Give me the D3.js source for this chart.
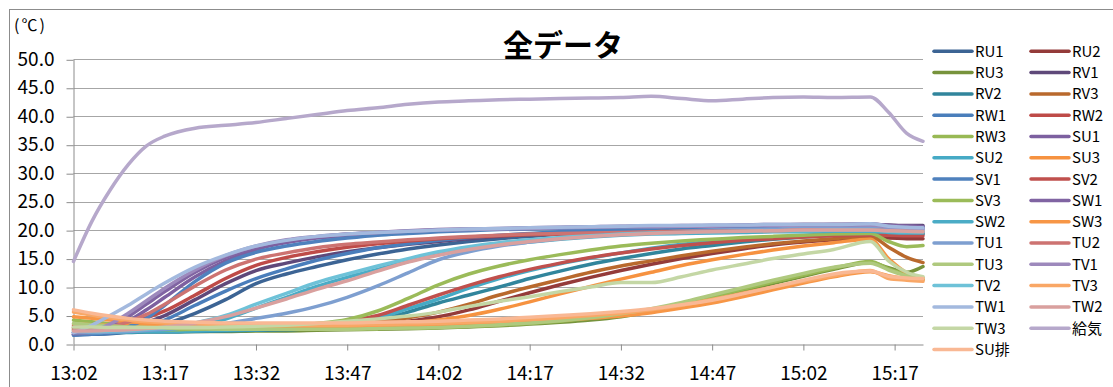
<!DOCTYPE html>
<html>
<head>
<meta charset="utf-8">
<script src="https://cdn.jsdelivr.net/npm/d3@7"></script>
<style>
  html, body { margin: 0; padding: 0; background: #fff; }
  svg { display: block; }
  text { font-family: "Noto Sans CJK JP", "Noto Sans", sans-serif; fill: #000; }
</style>
</head>
<body>
<svg id="chart" width="1113" height="387"></svg>
<script>
// Sample times (HH:MM or HH:MM:SS)
const times = [
  "13:02","13:05","13:08","13:11","13:14","13:17","13:22","13:27","13:32","13:37",
  "13:42","13:47","13:52","13:57","14:02","14:07","14:12","14:17","14:22","14:27",
  "14:32","14:37","14:42","14:47","14:52","14:57","15:02","15:07","15:13","15:16",
  "15:19","15:21:40"
];
const tickLabels = ["13:02","13:17","13:32","13:47","14:02","14:17","14:32","14:47","15:02","15:17"];
const yTicks = [0, 5, 10, 15, 20, 25, 30, 35, 40, 45, 50];

// Temperatures (°C) per measuring point
const RU1 = [1.6,1.7,1.8,2.1,2.6,3.5,5.4,7.8,10.6,12.3, 13.6,14.8,15.8,16.7,17.4,18.0,18.5,18.9,19.3,19.6, 19.8,20.0,20.1,20.2,20.3,20.4,20.5,20.5,20.6,20.5, 20.4,20.4];
const RU2 = [2.8,2.8,2.7,2.7,2.6,2.6,2.6,2.7,2.7,2.8, 2.9,3.1,3.4,4.0,4.8,6.0,7.5,9.0,10.4,11.7, 12.9,14.0,15.0,15.9,16.7,17.4,17.9,18.3,18.6,18.6, 18.5,18.5];
const RU3 = [2.4,2.3,2.3,2.2,2.2,2.2,2.2,2.2,2.3,2.3, 2.4,2.5,2.6,2.7,2.8,3.0,3.2,3.5,3.8,4.2, 4.8,5.7,6.8,8.0,9.3,10.6,11.9,13.1,14.3,13.4, 12.6,13.6];
const RV1 = [1.7,1.8,2.2,2.9,3.8,5.0,7.8,10.6,12.9,14.2, 15.3,16.2,16.9,17.5,18.0,18.5,18.9,19.3,19.6,19.9, 20.2,20.4,20.6,20.7,20.8,20.9,21.0,21.0,21.0,20.9, 20.8,20.8];
const RV2 = [2.0,2.0,2.0,2.0,2.1,2.1,2.2,2.3,2.4,2.5, 2.7,3.2,4.1,5.6,7.2,8.6,10.0,11.5,12.8,14.0, 15.0,15.9,16.7,17.3,17.9,18.4,18.8,19.1,19.3,19.3, 19.3,19.3];
const RV3 = [2.8,2.7,2.6,2.6,2.6,2.6,2.6,2.7,2.8,2.9, 3.1,3.4,3.9,4.6,5.6,7.0,8.6,10.0,11.3,12.6, 13.7,14.6,15.5,16.3,17.0,17.6,18.1,18.5,18.9,17.0, 15.2,14.3];
const RW1 = [1.6,1.7,1.9,2.3,3.0,4.2,6.8,9.3,11.5,13.2, 14.7,15.9,16.9,17.6,18.2,18.7,19.1,19.4,19.7,19.9, 20.0,20.2,20.3,20.4,20.5,20.6,20.6,20.7,20.7,20.5, 20.4,20.3];
const RW2 = [3.3,3.2,3.3,3.8,4.6,5.8,8.6,11.5,13.8,15.2, 16.2,17.0,17.6,18.1,18.5,18.8,19.0,19.2,19.3,19.4, 19.5,19.6,19.6,19.7,19.7,19.8,19.8,19.8,19.8,19.6, 19.5,19.4];
const RW3 = [4.2,3.9,3.6,3.4,3.2,3.0,2.8,2.7,2.6,2.6, 2.6,2.6,2.7,2.8,2.9,3.1,3.3,3.6,4.0,4.5, 5.1,6.0,7.1,8.3,9.6,10.9,12.1,13.3,14.5,13.2, 12.2,11.3];
const SU1 = [1.7,1.9,2.6,4.0,6.0,8.2,11.8,14.6,16.6,17.8, 18.6,19.0,19.4,19.7,19.9,20.1,20.2,20.3,20.4,20.5, 20.6,20.7,20.7,20.8,20.8,20.9,20.9,21.0,21.0,20.8, 20.7,20.6];
const SU2 = [2.1,2.1,2.1,2.1,2.2,2.2,2.3,2.4,2.5,2.7, 3.0,3.6,4.6,6.2,7.9,9.8,11.5,12.9,14.1,15.1, 16.0,16.8,17.5,18.0,18.5,18.8,19.0,19.2,19.3,19.4, 19.4,19.4];
const SU3 = [3.5,3.4,3.3,3.2,3.1,3.0,2.9,2.9,2.9,3.0, 3.1,3.2,3.4,3.7,4.2,5.0,6.1,7.4,8.8,10.1, 11.4,12.6,13.8,14.8,15.7,16.5,17.2,17.8,18.4,15.0, 12.5,11.6];
const SV1 = [1.6,1.8,2.2,3.0,4.5,6.8,11.0,14.2,16.1,17.2, 18.0,18.6,19.1,19.4,19.7,19.9,20.1,20.2,20.3,20.4, 20.5,20.6,20.6,20.7,20.7,20.8,20.8,20.9,20.9,20.6, 20.5,20.5];
const SV2 = [3.0,2.9,2.8,2.7,2.7,2.7,2.7,2.8,2.9,3.1, 3.4,4.0,5.0,6.8,8.6,10.3,11.8,13.1,14.2,15.2, 16.0,16.7,17.3,17.8,18.2,18.5,18.8,19.0,19.1,19.1, 19.0,19.0];
const SV3 = [2.6,2.6,2.5,2.5,2.5,2.5,2.6,2.7,2.9,3.2, 3.6,4.3,5.8,8.0,10.4,12.3,13.7,14.8,15.7,16.5, 17.2,17.7,18.1,18.4,18.7,18.9,19.1,19.3,19.4,18.0, 17.1,17.3];
const SW1 = [1.8,2.0,3.0,4.8,7.0,9.2,12.6,15.2,17.0,18.2, 18.8,19.3,19.6,19.9,20.1,20.2,20.3,20.4,20.5,20.6, 20.7,20.7,20.8,20.8,20.9,21.0,21.0,21.0,21.1,20.8, 20.7,20.6];
const SW2 = [2.0,2.0,2.1,2.2,2.3,2.5,3.2,4.4,6.3,8.2, 10.1,11.7,13.1,14.5,15.7,16.6,17.4,17.9,18.4,18.8, 19.1,19.3,19.4,19.5,19.6,19.7,19.7,19.8,19.8,19.6, 19.5,19.5];
const SW3 = [4.8,4.5,4.2,3.9,3.6,3.4,3.1,3.0,2.9,2.9, 2.9,2.9,3.0,3.1,3.3,3.5,3.7,3.9,4.2,4.5, 4.9,5.5,6.3,7.2,8.3,9.5,10.7,11.8,12.7,12.0, 11.5,11.3];
const TU1 = [2.0,2.0,2.1,2.2,2.4,2.6,3.0,3.6,4.5,5.4, 6.6,8.2,10.2,12.5,14.8,16.2,17.2,17.9,18.5,18.9, 19.3,19.6,19.8,20.0,20.1,20.2,20.3,20.3,20.4,20.2, 20.1,20.1];
const TU2 = [2.5,2.6,3.0,3.9,5.2,7.0,10.2,13.0,14.9,16.0, 16.9,17.5,17.9,18.3,18.6,18.9,19.1,19.3,19.4,19.5, 19.6,19.7,19.8,19.8,19.9,19.9,20.0,20.0,20.0,19.9, 19.8,19.8];
const TU3 = [3.6,3.4,3.2,3.0,2.9,2.8,2.7,2.6,2.6,2.6, 2.6,2.6,2.7,2.8,2.9,3.1,3.4,3.7,4.1,4.6, 5.3,6.2,7.3,8.6,9.9,11.2,12.4,13.5,14.2,13.0, 12.0,11.6];
const TV1 = [2.0,2.3,3.5,5.4,7.6,9.8,13.0,15.5,17.2,18.3, 18.9,19.3,19.6,19.8,20.0,20.1,20.2,20.3,20.4,20.5, 20.6,20.6,20.7,20.7,20.8,20.8,20.9,20.9,20.9,20.6, 20.4,20.3];
const TV2 = [2.2,2.2,2.3,2.4,2.6,2.9,3.7,5.0,7.0,8.9, 10.8,12.3,13.7,15.0,16.2,17.1,17.8,18.3,18.7,19.0, 19.3,19.5,19.6,19.7,19.8,19.9,19.9,20.0,20.0,19.8, 19.7,19.7];
const TV3 = [5.6,5.1,4.6,4.2,3.9,3.7,3.5,3.4,3.3,3.3, 3.3,3.3,3.4,3.5,3.6,3.8,4.0,4.3,4.6,5.0, 5.4,6.0,6.8,7.8,8.9,10.0,11.0,12.0,12.9,11.5, 11.2,11.0];
const TW1 = [2.0,3.3,5.0,6.8,8.8,10.7,13.5,15.6,17.2,18.2, 18.9,19.3,19.6,19.8,20.0,20.2,20.3,20.4,20.5,20.6, 20.7,20.8,20.8,20.9,20.9,21.0,21.0,21.0,21.1,20.7, 20.5,20.4];
const TW2 = [2.3,2.3,2.4,2.5,2.7,3.0,3.7,4.8,6.3,7.9, 9.6,11.1,12.8,14.4,15.6,16.6,17.4,18.0,18.5,18.9, 19.2,19.4,19.6,19.7,19.8,19.9,20.0,20.0,20.0,19.9, 19.8,19.7];
const TW3 = [3.0,3.0,2.9,2.9,2.9,2.9,2.9,3.0,3.1,3.3, 3.6,4.0,4.4,4.9,5.6,6.6,7.5,8.3,9.2,10.0, 10.8,10.8,11.8,13.0,14.0,15.0,15.8,16.6,18.0,14.6, 12.6,11.8];
const supplyAir = [14.5,21.5,27.0,31.5,34.8,36.5,37.9,38.4,38.9,39.6, 40.3,41.0,41.5,42.1,42.5,42.7,42.9,43.0,43.1,43.2, 43.3,43.5,43.1,42.7,43.0,43.3,43.4,43.3,43.4,40.7, 37.0,35.6];
const suExhaust = [6.0,5.4,4.9,4.5,4.2,4.0,3.8,3.7,3.7,3.7, 3.7,3.7,3.8,3.9,4.0,4.2,4.4,4.7,5.0,5.3, 5.7,6.2,6.9,7.7,8.8,10.0,11.2,12.3,12.8,11.9, 11.6,11.5];

const seriesNames = ["RU1","RU2","RU3","RV1","RV2","RV3","RW1","RW2","RW3","SU1","SU2","SU3",
  "SV1","SV2","SV3","SW1","SW2","SW3","TU1","TU2","TU3","TV1","TV2","TV3","TW1","TW2","TW3","給気","SU排"];
const seriesValues = [RU1,RU2,RU3,RV1,RV2,RV3,RW1,RW2,RW3,SU1,SU2,SU3,
  SV1,SV2,SV3,SW1,SW2,SW3,TU1,TU2,TU3,TV1,TV2,TV3,TW1,TW2,TW3,supplyAir,suExhaust];
const seriesColors = [
  "#3C6494","#943B3A","#77933C","#5F497A","#31859C","#B9692D",
  "#4A7EBB","#BE4B48","#98B954","#7D60A0","#46AAC5","#F69240",
  "#4F81BD","#C0504D","#9BBB59","#8064A2","#4BACC6","#F79646",
  "#7E9FD0","#CD7371","#AFC97E","#9D89BC","#6EC2D8","#F9A766",
  "#A3B9DE","#D9A09E","#C4D7A5","#B6A8CB","#F9B894"
];

const parseTime = s => d3.timeParse("%H:%M:%S")(s.length === 5 ? s + ":00" : s);
const timeVals = times.map(parseTime);

const svg = d3.select("#chart");

// chart frame
svg.append("rect")
  .attr("x", 9.5).attr("y", 9.5)
  .attr("width", 1130).attr("height", 400)
  .attr("fill", "#fff").attr("stroke", "#8c8c8c").attr("stroke-width", 1);

const plotLeft = 73.5, plotRight = 923, plotBottom = 344, plotTop = 59.3;

const x = d3.scaleTime()
  .domain([timeVals[0], timeVals[timeVals.length - 1]])
  .range([plotLeft, plotRight]);
const y = d3.scaleLinear().domain([0, 50]).range([plotBottom, plotTop]);

// horizontal gridlines
svg.append("g").selectAll("line")
  .data(yTicks.filter(v => v > 0))
  .join("line")
  .attr("x1", plotLeft).attr("x2", plotRight)
  .attr("y1", d => Math.round(y(d)) + 0.5).attr("y2", d => Math.round(y(d)) + 0.5)
  .attr("stroke", "#a6a6a6").attr("stroke-width", 1);

// y axis
const yAxis = svg.append("g")
  .attr("transform", `translate(${plotLeft},0)`)
  .call(d3.axisLeft(y).tickValues(yTicks).tickFormat(d3.format(".1f"))
    .tickSize(7).tickSizeOuter(0).tickPadding(12));
yAxis.selectAll("line").attr("stroke", "#8c8c8c").attr("transform", "translate(0,0.5)");
yAxis.select(".domain").attr("stroke", "#8c8c8c");
yAxis.selectAll("text").attr("font-size", 19).attr("font-family", '"Noto Sans CJK JP", sans-serif');

// x axis
const xAxis = svg.append("g")
  .attr("transform", `translate(0,${plotBottom + 0.5})`)
  .call(d3.axisBottom(x).tickValues(tickLabels.map(parseTime))
    .tickFormat((d, i) => tickLabels[i])
    .tickSize(6).tickSizeOuter(0).tickPadding(16));
xAxis.select(".domain").attr("stroke", "#8c8c8c");
xAxis.selectAll("line").attr("stroke", "#8c8c8c");
xAxis.selectAll("text").attr("font-size", 19).attr("font-family", '"Noto Sans CJK JP", sans-serif');

// unit label
svg.append("text")
  .attr("x", 14).attr("y", 31)
  .attr("font-size", 16)
  .attr("letter-spacing", 2)
  .text("(℃)");

// title
svg.append("text")
  .attr("x", 563).attr("y", 56)
  .attr("text-anchor", "middle")
  .attr("font-size", 30)
  .attr("font-weight", "bold")
  .text("全データ");

// series lines
const line = d3.line()
  .x((d, i) => x(timeVals[i]))
  .y(d => y(d))
  .curve(d3.curveMonotoneX);

svg.append("g").selectAll("path")
  .data(seriesValues)
  .join("path")
  .attr("d", d => line(d))
  .attr("fill", "none")
  .attr("stroke", (d, i) => seriesColors[i])
  .attr("stroke-width", 3.5)
  .attr("stroke-linejoin", "round")
  .attr("stroke-linecap", "round");

// legend: two columns, row-major order
const legendTop = 51.3, legendStep = 21.3;
const colLineX = [934, 1031], lineLen = 38;
const legend = svg.append("g").selectAll("g")
  .data(seriesNames)
  .join("g")
  .attr("transform", (d, i) => `translate(${colLineX[i % 2]},${legendTop + Math.floor(i / 2) * legendStep})`);
legend.append("line")
  .attr("x1", 0).attr("x2", lineLen).attr("y1", 0).attr("y2", 0)
  .attr("stroke", (d, i) => seriesColors[i])
  .attr("stroke-width", 3.5)
  .attr("stroke-linecap", "round");
legend.append("text")
  .attr("x", lineLen + 3).attr("y", 0).attr("dy", "0.36em")
  .attr("font-size", 15)
  .text(d => d);
</script>
</body>
</html>
